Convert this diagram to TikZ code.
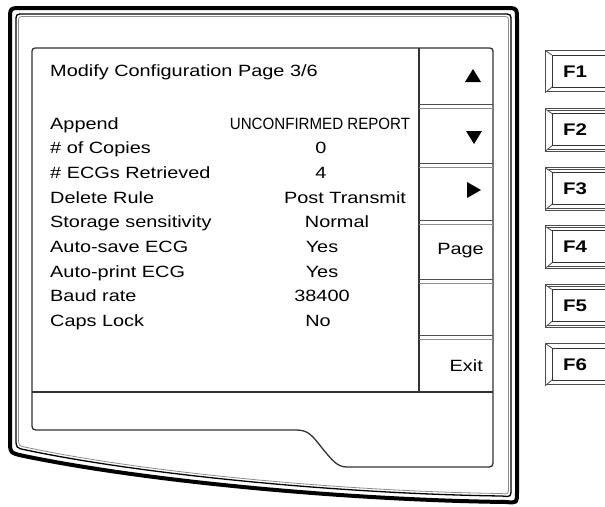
\documentclass[tikz,border=0pt]{standalone}
\usepackage{fontspec}
\setmainfont[FakeStretch=1.22]{Liberation Sans}
\newcommand\dfs{\fontsize{16.3}{18}\selectfont}
\newcommand\kfs{\fontsize{16.8}{18}\selectfont}
\begin{document}
\begin{tikzpicture}[x=1pt,y=-1pt,
  lbl/.style={anchor=base west, inner sep=0pt, font=\dfs},
  val/.style={anchor=base, inner sep=0pt, font=\dfs},
  soft/.style={anchor=base east, inner sep=0pt, font=\dfs},
  fkey/.style={anchor=base, inner sep=0pt, font=\kfs\bfseries},
  bezel/.style={line width=4pt, black},
  bezelthin/.style={line width=1.3pt, black},
  bezelgray/.style={line width=0.8pt, black!45},
  screen/.style={line width=1.3pt, black!80},
  sep/.style={line width=1pt, black!70},
  sepb/.style={line width=0.8pt, black!45},
  keyout/.style={line width=0.9pt, black!70, double=white, double distance=1pt},
  keyin/.style={line width=1pt, black!80},
  bevel/.style={line width=0.8pt, black!70}]
\useasboundingbox (0,0) rectangle (605,506);
\clip (0,0) rectangle (605,506);
% bezel
\draw[bezel] (10,440) -- (10,20) .. controls (10,8) .. (22,8) -- (505,8) .. controls (517,8) .. (517,20) -- (517,492) .. controls (517,503) .. (506,502) .. controls (350,500) and (150,482) .. (24,456) .. controls (10,453) .. (10,440) -- cycle;
\draw[bezelthin] (16,438) -- (16,22) .. controls (16,14) .. (24,14) -- (503,14) .. controls (511,14) .. (511,22) -- (511,488) .. controls (511,497) .. (502,496) .. controls (350,494) and (150,476) .. (26,450) .. controls (16,448) .. (16,438) -- cycle;
\draw[bezelgray] (18.5,437) -- (18.5,23) .. controls (18.5,16.5) .. (25,16.5) -- (502,16.5) .. controls (508.5,16.5) .. (508.5,23) -- (508.5,486) .. controls (508.5,494.5) .. (501,493.5) .. controls (350,491.5) and (150,473.5) .. (27,447.5) .. controls (18.5,446) .. (18.5,437) -- cycle;
% screen
\draw[screen] (32,422) -- (32,55) .. controls (32,48) .. (39,48) -- (486,48) .. controls (493,48) .. (493,55) -- (493,459) .. controls (493,467) .. (485,467) -- (347,467) .. controls (337,467) and (332,460) .. (322,448) .. controls (312,435) and (308,430) .. (296,430) -- (40,430) .. controls (32,430) .. (32,422) -- cycle;
\draw[screen] (32,392) -- (493,392);
\draw[screen] (419,48) -- (419,392);
\foreach \y in {104,163,220,279,335}{
  \draw[sep] (419,\y) -- (493,\y);
  \draw[sepb] (419,\y+4) -- (493,\y+4);
}
% soft key symbols
\fill (465,82) -- (481,82) -- (473,69) -- cycle;
\fill (466,131) -- (482,131) -- (474,144) -- cycle;
\fill (467,182) -- (467,198) -- (481,190) -- cycle;
\node[soft] (page) at (484,254) {Page};
\node[soft] (exit) at (483,371) {Exit};
% text
\node[lbl] (title) at (50,76) {Modify Configuration Page 3/6};
\node[lbl] (l1) at (50,129) {Append};
\node[lbl] (l2) at (50,153.7) {\# of Copies};
\node[lbl] (l3) at (50,178.4) {\# ECGs Retrieved};
\node[lbl] (l4) at (50,203.1) {Delete Rule};
\node[lbl] (l5) at (50,227.8) {Storage sensitivity};
\node[lbl] (l6) at (50,252.5) {Auto-save ECG};
\node[lbl] (l7) at (50,277.2) {Auto-print ECG};
\node[lbl] (l8) at (50,301.9) {Baud rate};
\node[lbl] (l9) at (50,326.6) {Caps Lock};
\node[val] (v1) at (320,129) {\scalebox{0.76}[1]{UNCONFIRMED REPORT}};
\node[val] (v2) at (321,153.7) {0};
\node[val] (v3) at (321,178.4) {4};
\node[val] (v4) at (345,203.1) {Post Transmit};
\node[val] (v5) at (337,227.8) {Normal};
\node[val] (v6) at (322,252.5) {Yes};
\node[val] (v7) at (322,277.2) {Yes};
\node[val] (v8) at (322,301.9) {38400};
\node[val] (v9) at (318,326.6) {No};
% function keys
\foreach \i in {1,...,6}{
  \pgfmathsetmacro{\t}{50+58.6*(\i-1)}
  \draw[keyout] (546,\t+1) rectangle (625,\t+42);
  \draw[keyin] (552,\t+5) rectangle (625,\t+37);
  \draw[bevel] (546,\t+1) -- (552,\t+5);
  \draw[bevel] (546,\t+42) -- (552,\t+37);
  \node[fkey] (f\i) at (575,\t+27) {F\i};
}
\end{tikzpicture}
\end{document}
